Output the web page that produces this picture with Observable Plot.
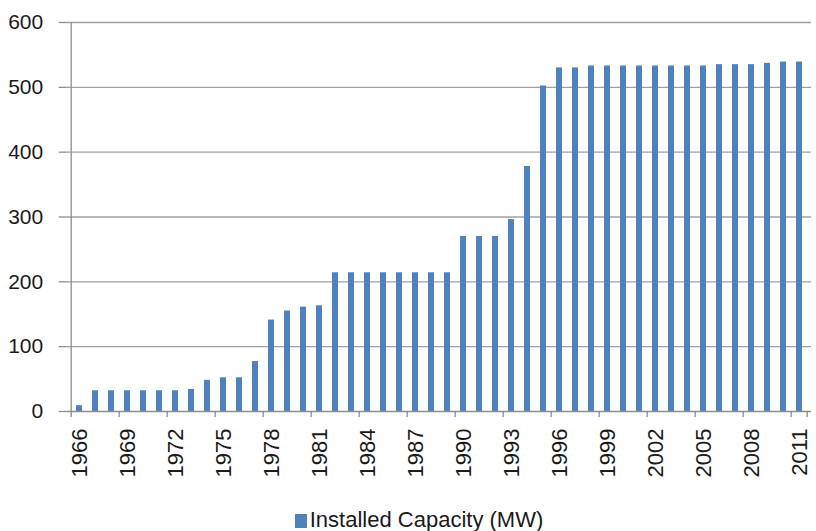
<!DOCTYPE html>
<html>
<head>
<meta charset="utf-8">
<script src="https://cdn.jsdelivr.net/npm/d3@7"></script>
<script src="https://cdn.jsdelivr.net/npm/@observablehq/plot@0.6"></script>
<style>
  html, body { margin: 0; padding: 0; background: #fff; }
  #chart { position: relative; width: 816px; height: 531px; overflow: hidden; }
  #legend { position: absolute; left: 11px; top: 506px; width: 816px; text-align: center;
    font-family: "Liberation Sans", sans-serif; font-size: 22px; color: #1a1a1a; line-height: 28px; }
  #legend .sw { display: inline-block; width: 12px; height: 14px; background: #4f81bd; margin-right: 3px; vertical-align: -1px; }
</style>
</head>
<body>
<div id="chart"></div>
<script>
const years = d3.range(1966, 2012);
const capacity = [
  9, 32, 32, 32, 32, 32, 32, 34, 48, 52,
  52, 77, 141, 155, 161, 163, 214, 214, 214, 214,
  214, 214, 214, 214, 270, 270, 270, 296, 378, 502,
  530, 530, 533, 533, 533, 533, 533, 533, 533, 533,
  535, 535, 535, 537, 539, 539
];
const yTicks = [0, 100, 200, 300, 400, 500, 600];
const xTickYears = years.filter((y, i) => i % 3 === 0);
const seriesName = "Installed Capacity (MW)";

const data = years.map((y, i) => ({year: y, value: capacity[i]}));

const W = 816, H = 490;
const mL = 66.7, mR = 5, mT = 22, mB = 79;

const plot = Plot.plot({
  width: W,
  height: H,
  marginLeft: mL,
  marginRight: mR,
  marginTop: mT,
  marginBottom: mB,
  style: {fontFamily: "Liberation Sans, sans-serif", fontSize: "21px", color: "#1a1a1a", background: "#fff"},
  x: {type: "band", domain: years, paddingInner: 0.6, paddingOuter: 0.3, align: 0.5},
  y: {domain: [0, 600]},
  marks: [
    Plot.ruleY(yTicks.filter(d => d > 0), {stroke: "#a0a0a0", strokeWidth: 1.3}),
    Plot.barY(data, {x: "year", y: "value", fill: "#4f81bd"}),
    Plot.ruleY([0], {stroke: "#8c8c8c", strokeWidth: 1.3}),
    Plot.axisY({ticks: yTicks, tickSize: 8, tickPadding: 16, stroke: "#8c8c8c", strokeWidth: 1.3, fontSize: 21, fill: "#1a1a1a", label: null}),
    Plot.axisX({ticks: xTickYears, tickSize: 0, tickPadding: 17, tickRotate: -90, tickFormat: d => String(d), fontSize: 22, fill: "#1a1a1a", label: null})
  ]
});

document.getElementById("chart").appendChild(plot);

// vertical axis line and x tick marks (at category boundaries) placed from the scales
const xs = plot.scale("x"), ysc = plot.scale("y");
const step = xs.step;
const svg = d3.select(plot);
const y0 = ysc.apply(0), yTop = ysc.apply(600);
const bandStart = y => xs.apply(y) - step * xs.paddingInner / 2;
svg.append("line").attr("x1", bandStart(years[0])).attr("x2", bandStart(years[0])).attr("y1", yTop).attr("y2", y0)
  .attr("stroke", "#8c8c8c").attr("stroke-width", 1.3);
const tickPos = xTickYears.map(bandStart).concat([bandStart(years[years.length - 1]) + step]);
svg.selectAll("line.xt").data(tickPos).join("line").attr("class", "xt")
  .attr("x1", d => d).attr("x2", d => d).attr("y1", y0).attr("y2", y0 + 6)
  .attr("stroke", "#8c8c8c").attr("stroke-width", 1.3);

const legend = document.createElement("div");
legend.id = "legend";
legend.innerHTML = '<span class="sw"></span>' + seriesName;
document.getElementById("chart").appendChild(legend);
</script>
</body>
</html>
